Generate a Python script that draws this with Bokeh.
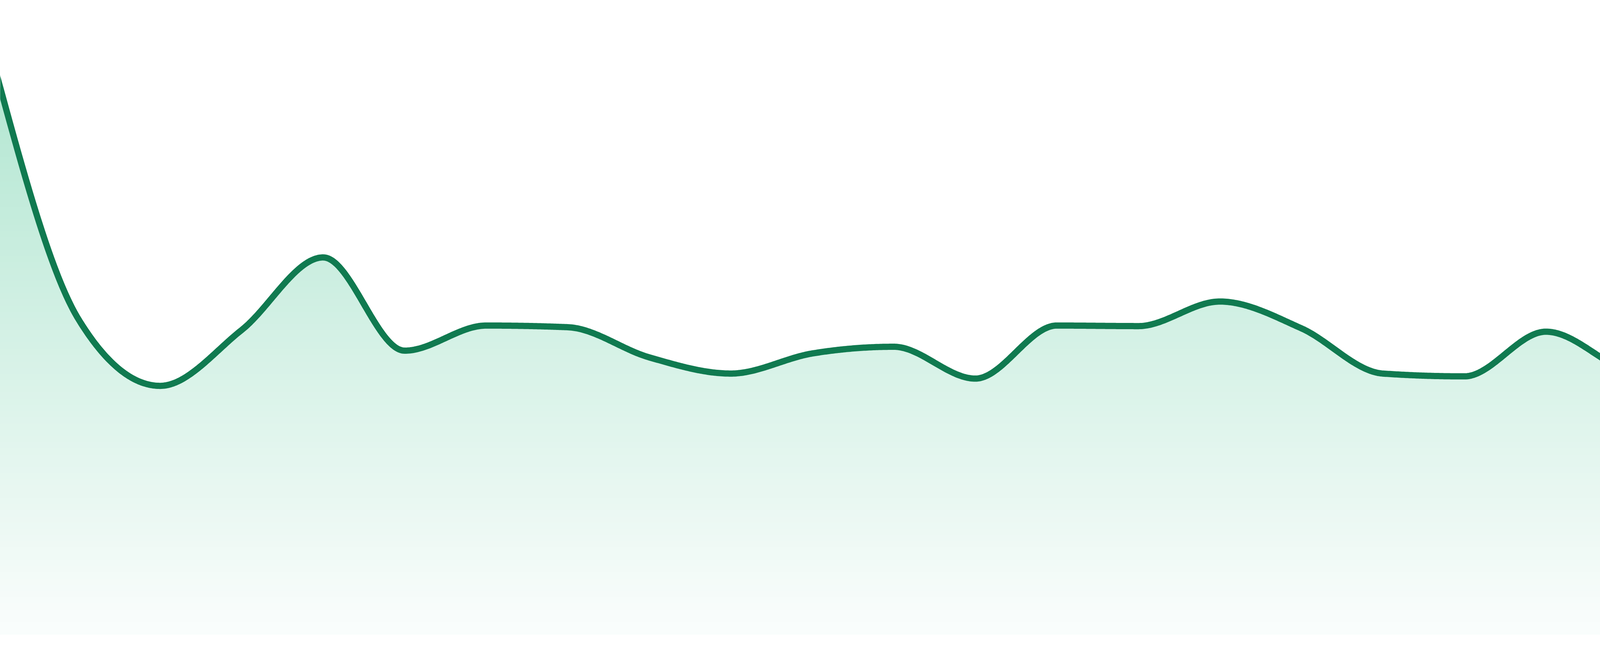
import numpy as np
from bokeh.plotting import figure
from bokeh.models import Range1d
from bokeh.embed import file_html
from bokeh.resources import INLINE

# ---- data ----
steps = list(range(24))
values = [100.0, 56.4, 44.5, 54.5, 67.5, 50.8, 55.3, 55.0, 49.6, 46.7, 50.3, 51.5,
          45.8, 55.3, 55.2, 59.6, 54.8, 46.7, 46.2, 54.2, 47.1, 44.3, 43.4, 40.3]

LINE_COLOR = "#107a50"
TOP_RGB = (178, 230, 209)
BOT_RGB = (250, 253, 252)


def monotone_x(xs, ys, n=60):
    """Monotone cubic curve through the points (same maths as d3 curveMonotoneX)."""
    xs = np.asarray(xs, float)
    ys = np.asarray(ys, float)
    m = len(xs)
    h = np.diff(xs)
    s = np.diff(ys) / h
    t = np.zeros(m)
    for i in range(1, m - 1):
        h0, h1 = h[i - 1], h[i]
        s0, s1 = s[i - 1], s[i]
        p = (s0 * h1 + s1 * h0) / (h0 + h1)
        t[i] = (np.sign(s0) + np.sign(s1)) * min(abs(s0), abs(s1), 0.5 * abs(p))
    t[0] = (3 * s[0] - t[1]) / 2
    t[-1] = (3 * s[-1] - t[-2]) / 2
    out_x, out_y = [], []
    for i in range(m - 1):
        u = np.linspace(0, 1, n, endpoint=(i == m - 2))
        dx = h[i]
        h00 = 2 * u**3 - 3 * u**2 + 1
        h10 = u**3 - 2 * u**2 + u
        h01 = -2 * u**3 + 3 * u**2
        h11 = u**3 - u**2
        out_x.append(xs[i] + u * dx)
        out_y.append(h00 * ys[i] + h10 * dx * t[i] + h01 * ys[i + 1] + h11 * dx * t[i + 1])
    return np.concatenate(out_x), np.concatenate(out_y)


cx, cy = monotone_x(steps, values)

W, H = 4784, 1664
p = figure(width=W, height=H, output_backend="svg", toolbar_location=None,
           x_range=Range1d(0.0383, 22.9617), y_range=Range1d(-2.797, 113.566),
           min_border=0, min_border_left=0, min_border_right=0,
           min_border_top=0, min_border_bottom=0)
p.axis.visible = False
p.grid.visible = False
p.outline_line_color = None
p.background_fill_color = "white"
p.border_fill_color = "white"

# vertical gradient fill under the curve, drawn as stacked layers (top colour first)
vmax = max(values)
n_bands = 90
step = vmax / n_bands
levels = np.linspace(vmax, 0, n_bands + 1)[:-1]
for L in levels:
    f = 1 - L / vmax  # 0 at top, 1 at bottom
    r = int(round(TOP_RGB[0] + (BOT_RGB[0] - TOP_RGB[0]) * f))
    g = int(round(TOP_RGB[1] + (BOT_RGB[1] - TOP_RGB[1]) * f))
    b = int(round(TOP_RGB[2] + (BOT_RGB[2] - TOP_RGB[2]) * f))
    col = "#%02x%02x%02x" % (r, g, b)
    p.varea(x=cx, y1=np.zeros_like(cy), y2=np.minimum(cy, L + step),
            fill_color=col, fill_alpha=1.0)

p.line(cx, cy, line_color=LINE_COLOR, line_width=16, line_join="round", line_cap="round")

open("out.html", "w").write(file_html(p, INLINE))
